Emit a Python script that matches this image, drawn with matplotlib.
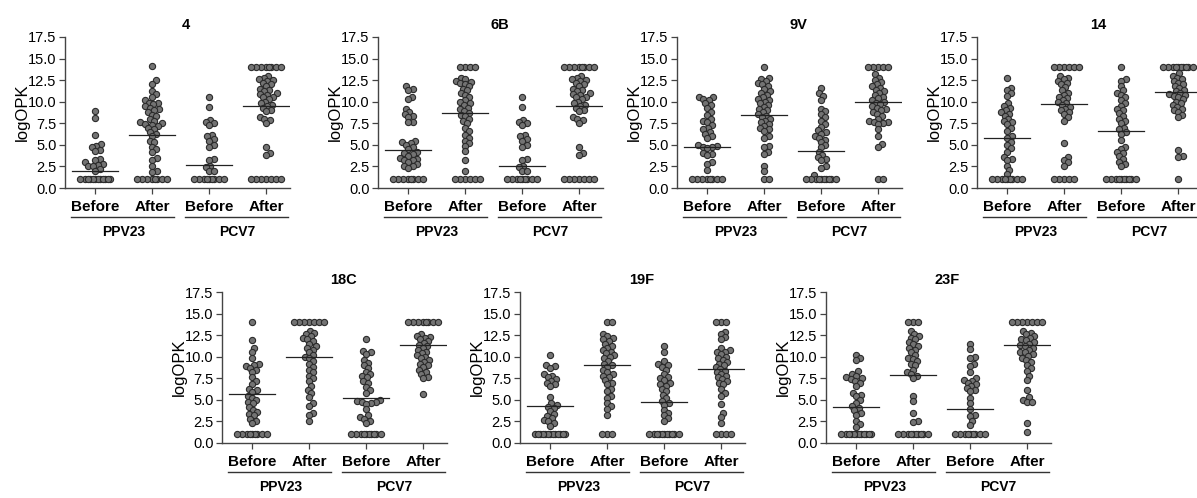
import matplotlib
matplotlib.use("Agg")
import matplotlib.pyplot as plt
import matplotlib.transforms as mtransforms
import numpy as np

plt.rcParams["font.family"] = ["Liberation Sans", "DejaVu Sans"]

# data: logOPK per serotype, groups = PPV23 before/after, PCV7 before/after
serotypes = ["4", "6B", "9V", "14", "18C", "19F", "23F"]
group_labels = ["Before", "After", "Before", "After"]
vaccines = ["PPV23", "PCV7"]

pcv7_before_4 = [10.5, 9.4, 7.9, 7.7, 7.5, 7.3, 6.2, 6.0, 5.7, 5.5, 5.0, 4.8, 3.4, 3.2,
                 2.6, 2.4, 2.0, 2.0] + [1.0] * 9
pcv7_after_4 = [14.0] * 8 + [13.0, 12.8, 12.6, 12.5, 12.4, 12.2, 12.0, 11.8, 11.5, 11.3,
                             11.2, 11.0, 10.9, 10.8, 10.6, 10.5, 10.3, 10.0, 9.8, 9.6,
                             9.5, 9.3, 9.0, 8.9, 8.2, 8.0, 7.9, 7.5, 4.7, 4.1, 3.8] + [1.0] * 7

values = {
    "4": [
        [8.9, 8.1, 6.2, 5.1, 4.9, 4.7, 4.4, 4.3, 3.4, 3.3, 3.0, 2.8, 2.7, 2.6, 2.5, 2.2,
         2.0] + [1.0] * 12,
        [14.1, 12.5, 12.1, 11.2, 10.9, 10.5, 10.2, 9.9, 9.8, 9.7, 9.5, 9.3, 9.1, 9.0, 8.8,
         8.5, 8.3, 8.0, 7.8, 7.6, 7.5, 7.4, 7.3, 7.2, 7.0, 6.8, 6.5, 6.3, 6.0, 5.5, 5.3,
         4.8, 4.5, 4.2, 3.5, 3.3, 2.5, 2.0, 1.8] + [1.0] * 8,
        pcv7_before_4,
        pcv7_after_4,
    ],
    "6B": [
        [11.8, 11.5, 11.3, 10.6, 10.3, 9.2, 8.8, 8.6, 8.4, 8.2, 7.7, 7.6, 5.5, 5.3, 5.2,
         5.0, 4.7, 4.5, 4.2, 4.0, 3.9, 3.7, 3.5, 3.4, 3.3, 3.2, 3.0, 2.8, 2.6, 2.5,
         2.3] + [1.0] * 8,
        [14.0] * 4 + [12.8, 12.6, 12.4, 12.3, 12.2, 12.0, 11.8, 11.5, 11.3, 11.0, 10.8,
                      10.5, 10.2, 10.0, 9.8, 9.6, 9.3, 9.1, 8.9, 8.7, 8.5, 8.3, 8.0, 7.8,
                      7.5, 7.0, 6.6, 6.2, 5.8, 5.5, 5.2, 4.9, 4.3, 3.3, 2.0] + [1.0] * 6,
        pcv7_before_4,
        pcv7_after_4,
    ],
    "9V": [
        [10.6, 10.5, 10.3, 10.2, 9.8, 9.6, 9.3, 8.8, 8.5, 8.0, 7.8, 7.6, 7.3, 7.0, 6.8,
         6.5, 6.3, 6.0, 5.8, 5.0, 4.9, 4.8, 4.7, 4.6, 4.0, 3.9, 3.8, 3.0, 2.8,
         2.1] + [1.0] * 8,
        [14.0, 12.8, 12.6, 12.4, 12.2, 12.0, 11.8, 11.5, 11.2, 11.0, 10.8, 10.5, 10.3,
         10.2, 10.0, 9.8, 9.6, 9.4, 9.2, 9.0, 8.8, 8.6, 8.4, 8.2, 8.0, 7.8, 7.6, 7.4,
         7.2, 6.9, 6.8, 6.6, 6.0, 5.8, 4.9, 4.7, 4.2, 3.9, 2.6, 2.0, 1.0, 1.0],
        [11.6, 11.0, 10.7, 10.2, 9.2, 8.9, 8.6, 8.2, 7.8, 7.4, 7.1, 6.7, 6.5, 6.3, 6.0,
         5.8, 5.6, 5.3, 5.0, 4.7, 4.2, 3.8, 3.6, 3.4, 3.2, 2.5, 2.3, 1.5] + [1.0] * 10,
        [14.0] * 5 + [13.2, 12.8, 12.5, 12.3, 12.0, 11.8, 11.6, 11.4, 11.2, 11.0, 10.8,
                      10.6, 10.4, 10.2, 10.0, 9.9, 9.7, 9.5, 9.3, 9.1, 9.0, 8.8, 8.6,
                      8.4, 8.0, 7.8, 7.7, 7.6, 7.5, 7.4, 6.8, 6.0, 5.1, 4.8, 1.0, 1.0],
    ],
    "14": [
        [12.7, 11.6, 11.3, 11.0, 10.7, 9.8, 9.5, 9.3, 9.0, 8.8, 8.6, 8.4, 8.0, 7.8, 7.6,
         7.4, 7.0, 6.6, 6.0, 5.8, 5.3, 5.0, 4.6, 4.2, 3.6, 3.4, 3.2, 2.6, 2.1,
         1.6] + [1.0] * 9,
        [14.0] * 6 + [13.0, 12.8, 12.6, 12.4, 12.2, 12.0, 11.7, 11.3, 11.0, 10.8, 10.6,
                      10.4, 10.2, 10.0, 9.8, 9.6, 9.4, 9.2, 9.0, 8.8, 8.6, 8.2, 7.8, 5.2,
                      3.6, 3.3, 3.0, 2.6] + [1.0] * 5,
        [14.0, 12.6, 12.4, 11.8, 11.3, 11.0, 10.8, 10.5, 10.2, 9.8, 9.5, 9.2, 9.0, 8.7,
         8.4, 8.0, 7.8, 7.5, 7.0, 6.8, 6.5, 6.3, 5.6, 4.7, 4.5, 4.2, 4.0, 3.7, 3.4, 3.0,
         2.8, 2.5] + [1.0] * 10,
        [14.0] * 10 + [13.3, 13.0, 12.8, 12.6, 12.4, 12.2, 12.0, 11.8, 11.6, 11.4, 11.2,
                       11.0, 10.9, 10.8, 10.7, 10.5, 10.3, 10.0, 9.8, 9.6, 9.4, 9.2, 9.0,
                       8.8, 8.5, 8.2, 4.4, 3.7, 3.6, 1.0],
    ],
    "18C": [
        [14.0, 11.9, 11.0, 10.5, 9.9, 9.2, 9.0, 8.9, 8.7, 8.5, 8.2, 7.6, 7.2, 6.8, 6.3,
         6.1, 5.9, 5.5, 5.2, 5.0, 4.8, 4.6, 4.2, 3.8, 3.6, 3.4, 3.2, 2.8, 2.6,
         2.3] + [1.0] * 9,
        [14.0] * 7 + [13.0, 12.8, 12.6, 12.4, 12.2, 12.0, 11.8, 11.5, 11.2, 11.0, 10.8,
                      10.5, 10.2, 10.0, 9.8, 9.5, 9.2, 8.8, 8.5, 8.2, 7.8, 7.5, 7.2, 6.6,
                      6.2, 5.8, 5.3, 4.6, 4.3, 3.5, 3.2, 2.5],
        [12.1, 10.7, 10.5, 10.3, 9.6, 9.3, 9.0, 8.7, 8.2, 8.0, 7.8, 7.6, 7.2, 7.0, 6.5,
         6.2, 5.8, 5.0, 4.9, 4.8, 4.7, 4.6, 4.5, 3.9, 3.2, 3.0, 2.8, 2.6,
         2.3] + [1.0] * 10,
        [14.0] * 8 + [12.6, 12.4, 12.3, 12.2, 12.0, 11.8, 11.6, 11.4, 11.2, 11.0, 10.8,
                      10.6, 10.4, 10.2, 10.0, 9.8, 9.6, 9.4, 9.2, 9.0, 8.8, 8.5, 8.2, 8.0,
                      7.6, 7.5, 5.7],
    ],
    "19F": [
        [10.2, 9.0, 8.9, 8.7, 8.0, 7.8, 7.6, 7.4, 7.2, 7.0, 6.8, 6.6, 5.3, 4.6, 4.4, 4.2,
         4.0, 3.7, 3.4, 3.1, 2.9, 2.7, 2.5, 2.3, 2.0] + [1.0] * 13,
        [14.0, 14.0, 12.6, 12.4, 12.2, 12.0, 11.8, 11.5, 11.2, 11.0, 10.8, 10.6, 10.4,
         10.2, 10.0, 9.8, 9.5, 9.2, 9.0, 8.8, 8.5, 8.2, 8.0, 7.8, 7.6, 7.3, 7.0, 6.8,
         6.3, 6.0, 5.5, 5.2, 4.6, 4.3, 3.9, 3.3] + [1.0] * 3,
        [11.2, 10.5, 9.5, 9.2, 9.0, 8.8, 8.5, 8.0, 7.7, 7.5, 7.3, 7.0, 6.8, 6.6, 6.3,
         6.0, 5.6, 5.2, 4.9, 4.6, 4.4, 3.8, 3.5, 3.2, 2.9, 2.5] + [1.0] * 11,
        [14.0] * 3 + [12.9, 12.6, 12.3, 12.0, 11.0, 10.8, 10.6, 10.5, 10.3, 10.0, 9.8,
                      9.6, 9.4, 9.2, 9.0, 8.8, 8.6, 8.4, 8.2, 8.0, 7.8, 7.6, 7.4, 7.2,
                      7.0, 6.8, 6.3, 5.8, 5.5, 4.5, 3.5, 3.0, 2.3] + [1.0] * 4,
    ],
    "23F": [
        [10.2, 9.9, 9.6, 8.3, 8.0, 7.8, 7.6, 7.5, 7.4, 7.2, 7.0, 6.6, 5.8, 5.6, 5.4, 5.0,
         4.6, 4.3, 4.0, 3.8, 3.5, 3.3, 2.6, 2.2, 1.8] + [1.0] * 12,
        [14.0] * 3 + [13.0, 12.6, 12.4, 12.2, 12.0, 11.7, 11.5, 11.2, 11.0, 10.8, 10.5,
                      10.2, 9.9, 9.7, 9.5, 9.2, 9.0, 8.5, 8.2, 8.0, 7.8, 7.5, 5.5, 4.9,
                      3.5, 2.5, 2.4] + [1.0] * 10,
        [11.5, 10.9, 10.0, 9.8, 9.2, 8.9, 8.2, 7.5, 7.3, 7.2, 7.0, 6.8, 6.6, 6.4, 6.2,
         6.0, 5.2, 4.6, 3.9, 3.3, 3.1, 2.6, 2.1] + [1.0] * 9,
        [14.0] * 7 + [13.0, 12.8, 12.6, 12.4, 12.2, 12.0, 11.9, 11.7, 11.5, 11.3, 11.2,
                      11.0, 10.8, 10.6, 10.5, 10.3, 10.1, 9.9, 9.6, 9.4, 9.0, 8.7, 8.4,
                      7.8, 7.3, 6.1, 5.3, 5.0, 4.8, 4.8, 2.3, 1.3],
    ],
}

medians = {
    "4": [2.0, 6.2, 2.7, 9.5],
    "6B": [4.4, 8.7, 2.6, 9.5],
    "9V": [4.8, 8.5, 4.3, 10.0],
    "14": [5.8, 9.7, 6.6, 11.1],
    "18C": [5.7, 10.0, 5.2, 11.4],
    "19F": [4.3, 9.0, 4.7, 8.6],
    "23F": [4.2, 7.9, 3.9, 11.3],
}

# axes placement in pixels: (left, bottom of plot area)
W, H = 1197, 498
panel_px = {
    "4": (65, 188), "6B": (378, 188), "9V": (677, 188), "14": (977, 188),
    "18C": (222, 443), "19F": (520, 443), "23F": (826, 443),
}
ax_w, ax_h = 225, 151
xlim = (-0.53, 3.42)
ylim = (0, 17.5)


def swarm_offsets(vals, xs, ys, d=4.6, maxw=16.0):
    # simple beeswarm in pixel space, returns x offsets in data units
    vals = np.asarray(vals, dtype=float)
    py = vals * ys
    offs = np.zeros(len(vals))
    placed = []
    cands = [0.0]
    k = 0.5
    while k <= maxw:
        cands += [k, -k]
        k += 0.5
    for i in np.argsort(vals, kind="stable"):
        best, best_d = 0.0, -1
        for c in cands:
            md = 1e9
            for (qx, qy) in placed:
                dy = py[i] - qy
                if abs(dy) < d:
                    md = min(md, np.hypot(c - qx, dy))
            if md >= d:
                best = c
                break
            if md > best_d:
                best, best_d = c, md
        offs[i] = best
        placed.append((best, py[i]))
    return offs / xs


fig = plt.figure(figsize=(W / 100, H / 100), dpi=100)

for name in serotypes:
    left, base = panel_px[name]
    ax = fig.add_axes([left / W, 1 - base / H, ax_w / W, ax_h / H])
    ax.set_xlim(*xlim)
    ax.set_ylim(*ylim)
    xs = ax_w / (xlim[1] - xlim[0])
    ys = ax_h / (ylim[1] - ylim[0])

    for gi, vals in enumerate(values[name]):
        off = swarm_offsets(vals, xs, ys)
        ax.scatter(gi + off, vals, s=20, facecolor="#737373", edgecolor="#2b2b2b",
                   linewidth=0.8, zorder=3, clip_on=False)
        ax.plot([gi - 0.4, gi + 0.4], [medians[name][gi]] * 2, color="#222222",
                lw=0.9, zorder=4)

    for s in ["top", "right"]:
        ax.spines[s].set_visible(False)
    for s in ["left", "bottom"]:
        ax.spines[s].set_color("#444444")
        ax.spines[s].set_linewidth(1.0)
    ax.set_yticks(np.arange(0, 17.6, 2.5))
    ax.set_yticklabels([f"{v:.1f}" for v in np.arange(0, 17.6, 2.5)])
    ax.set_xticks(range(4))
    ax.set_xticklabels([])
    ax.tick_params(axis="both", length=4, width=0.9, color="#444444",
                   labelsize=10.5, pad=2)
    ax.set_ylabel("logOPK", fontsize=12, labelpad=-1)

    ax.text(1.6, 1.08, name, transform=mtransforms.blended_transform_factory(
        ax.transData, ax.transAxes), ha="center", va="center",
        fontsize=10.5, fontweight="bold")

    trans = mtransforms.blended_transform_factory(ax.transData, ax.transAxes)
    for gi, lab in enumerate(group_labels):
        ax.text(gi, -0.126, lab, transform=trans, ha="center", va="center",
                fontsize=11, fontweight="bold")
    for vi, vac in enumerate(vaccines):
        x0 = vi * 2
        ax.plot([x0 - 0.42, x0 + 1.38], [-0.192, -0.192], transform=trans,
                color="#333333", lw=1.0, clip_on=False)
        ax.text(x0 + 0.5, -0.29, vac, transform=trans, ha="center", va="center",
                fontsize=10, fontweight="bold")

fig.savefig("out.png", dpi=100)
